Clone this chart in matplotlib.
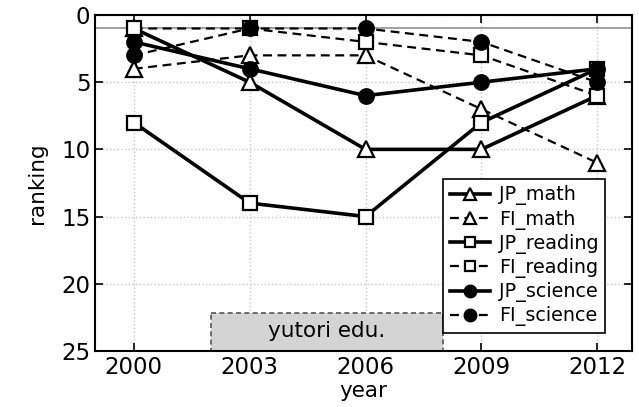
import matplotlib
matplotlib.use("Agg")
import matplotlib.pyplot as plt
from matplotlib.patches import Rectangle

years = [2000, 2003, 2006, 2009, 2012]

# PISA ranking per subject, Japan vs Finland
jp_math = [1, 5, 10, 10, 6]
fi_math = [4, 3, 3, 7, 11]
jp_reading = [8, 14, 15, 8, 4]
fi_reading = [1, 1, 2, 3, 6]
jp_science = [2, 4, 6, 5, 4]
fi_science = [3, 1, 1, 2, 5]

plt.rcParams['font.family'] = 'DejaVu Sans'

fig = plt.figure(figsize=(6.39, 4.07), dpi=100)
ax = fig.add_axes([0.149, 0.138, 0.840, 0.825])

ax.axhline(1, color='#999999', lw=1.3, zorder=1)

solid = dict(color='black', lw=2.6, linestyle='-', markeredgewidth=1.6)
dashed = dict(color='black', lw=1.6, linestyle=(0, (4, 2.5)), markeredgewidth=1.6)

ax.plot(years, jp_math, marker='^', ms=11, mfc='white', mec='black', label='JP_math', **solid)
ax.plot(years, fi_math, marker='^', ms=11, mfc='white', mec='black', label='FI_math', **dashed)
ax.plot(years, jp_reading, marker='s', ms=9.5, mfc='white', mec='black', label='JP_reading', **solid)
ax.plot(years, fi_reading, marker='s', ms=9.5, mfc='white', mec='black', label='FI_reading', **dashed)
ax.plot(years, jp_science, marker='o', ms=10.5, mfc='black', mec='black', label='JP_science', **solid)
ax.plot(years, fi_science, marker='o', ms=10.5, mfc='black', mec='black', label='FI_science', **dashed)

# yutori education period
box = Rectangle((2002, 22.2), 6, 2.8, facecolor='#d4d4d4', edgecolor='#555555',
                lw=1.2, linestyle=(0, (3, 2)), zorder=2)
ax.add_patch(box)
ax.text(2005, 23.55, 'yutori edu.', ha='center', va='center', fontsize=15.5, zorder=3)

ax.set_xlim(1999, 2012.9)
ax.set_ylim(25, 0)
ax.set_xticks(years)
ax.set_yticks([0, 5, 10, 15, 20, 25])
ax.tick_params(direction='in', top=True, right=True, length=6, width=1.2, labelsize=16.5)
ax.tick_params(axis='x', pad=4)
ax.grid(True, color='#c8c8c8', linestyle=':', lw=1)
ax.set_axisbelow(True)
for s in ax.spines.values():
    s.set_linewidth(1.5)

ax.set_xlabel('year', fontsize=15.5, labelpad=1)
ax.set_ylabel('ranking', fontsize=15.5, labelpad=10)

leg = ax.legend(loc='lower right', bbox_to_anchor=(0.968, 0.024), fontsize=13.8,
                frameon=True, fancybox=False, edgecolor='black', framealpha=1,
                handlelength=2.1, labelspacing=0.22, borderpad=0.35, handletextpad=0.45,
                markerscale=0.8)
leg.get_frame().set_linewidth(1.2)

fig.savefig('out.png', dpi=100)
